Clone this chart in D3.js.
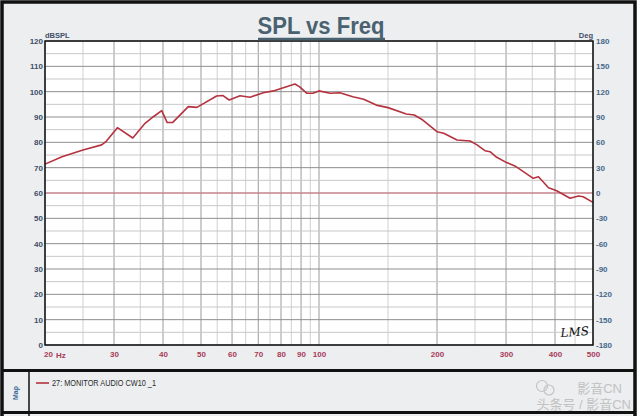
<!DOCTYPE html>
<html><head><meta charset="utf-8">
<script src="https://cdn.jsdelivr.net/npm/d3@7"></script>
<style>body{margin:0;background:#fff}svg{display:block}</style>
</head><body>
<svg id="c" width="640" height="416"></svg>
<script>
// ---- data ----
const freqs = [20,22.1,25.0,27.9,28.7,30.6,33.5,36.0,37.8,39.7,41.0,42.3,46.4,48.8,54.8,56.8,59.0,62.9,66.7,72.1,76.5,86.8,89.1,93.0,96.5,100,106.7,113,122,130,140,150,167,175,184,200,208,225,243,253,265,273,284,301,316,352,363,385,404,437,459,472,500];
const spl   = [71.4,74.3,77.0,79.0,80.5,85.8,81.7,87.5,90.1,92.5,87.8,87.8,94.1,93.8,98.3,98.5,96.7,98.4,97.8,99.6,100.3,103.0,102.0,99.4,99.4,100.3,99.4,99.6,98.0,97.0,94.7,93.7,91.2,90.8,88.8,84.2,83.6,80.9,80.5,79.0,76.7,76.3,74.1,72.0,70.7,65.8,66.4,62.1,60.9,57.9,58.8,58.5,56.3];
const xMajor = [20,30,40,50,60,70,80,90,100,200,300,400,500];
const xMinor = [25,35,45,55,65,75,85,95,150,250,350,450];
const xLabels = ["20","30","40","50","60","70","80","90","100","200","300","400","500"];
const yTicks = [0,10,20,30,40,50,60,70,80,90,100,110,120];
const yMinor = [5,15,25,35,45,55,65,75,85,95,105,115];
const degTicks = [180,150,120,90,60,30,0,-30,-60,-90,-120,-150,-180];
const refLevel = 60;
const seriesName = "27: MONITOR AUDIO CW10 _1";

const svg = d3.select("#c");
const L=45,R=593,T=41,B=345;
const x = d3.scaleLog().domain([20,500]).range([L,R]);
const y = d3.scaleLinear().domain([0,120]).range([B,T]);
const yd = d3.scaleLinear().domain([-180,180]).range([B,T]);

// frame / panels
svg.append("rect").attr("x",0).attr("y",0).attr("width",640).attr("height",416).attr("fill","#fff");
svg.append("rect").attr("x",2).attr("y",2).attr("width",633).attr("height",430).attr("fill","#eceef0").attr("stroke","#111").attr("stroke-width",3.5);
svg.append("line").attr("x1",2).attr("x2",635).attr("y1",370.5).attr("y2",370.5).attr("stroke","#111").attr("stroke-width",3);
svg.append("line").attr("x1",2).attr("x2",635).attr("y1",412.5).attr("y2",412.5).attr("stroke","#111").attr("stroke-width",3);
svg.append("line").attr("x1",29).attr("x2",29).attr("y1",372).attr("y2",416).attr("stroke","#111").attr("stroke-width",1.5);

// plot bg
svg.append("rect").attr("x",L).attr("y",T).attr("width",R-L).attr("height",B-T).attr("fill","#fff");

const g = svg.append("g");
// grid
g.selectAll(".vmin").data(xMinor).join("line").attr("x1",d=>x(d)).attr("x2",d=>x(d)).attr("y1",T).attr("y2",B).attr("stroke","#d0d0d0").attr("stroke-width",1);
g.selectAll(".vmaj").data(xMajor).join("line").attr("x1",d=>x(d)).attr("x2",d=>x(d)).attr("y1",T).attr("y2",B).attr("stroke","#9a9a9a").attr("stroke-width",1);
g.selectAll(".hmin").data(yMinor).join("line").attr("x1",L).attr("x2",R).attr("y1",d=>y(d)).attr("y2",d=>y(d)).attr("stroke","#c8c8c8").attr("stroke-width",1);
g.selectAll(".hmaj").data(yTicks).join("line").attr("x1",L).attr("x2",R).attr("y1",d=>y(d)).attr("y2",d=>y(d)).attr("stroke","#8e8e8e").attr("stroke-width",1);

// reference line
g.append("line").attr("x1",L).attr("x2",R).attr("y1",y(refLevel)).attr("y2",y(refLevel)).attr("stroke","#e07a85").attr("stroke-width",1);

// curve
const line = d3.line().x((d,i)=>x(freqs[i])).y(d=>y(d));
g.append("path").datum(spl).attr("d",line).attr("fill","none").attr("stroke","#b5323f").attr("stroke-width",1.6).attr("stroke-linejoin","round");

// plot border
svg.append("rect").attr("x",L).attr("y",T).attr("width",R-L).attr("height",B-T).attr("fill","none").attr("stroke","#111").attr("stroke-width",1.5);

// axes
const fnt = "Liberation Sans, Arial, sans-serif";
const la = svg.append("g").attr("transform",`translate(${L-2},0)`).call(d3.axisLeft(y).tickValues(yTicks).tickFormat(d=>String(d)).tickSize(0).tickPadding(0));
la.select(".domain").remove();
la.selectAll("text").attr("font-family",fnt).attr("font-size",8).attr("font-weight","bold").attr("fill","#3d4f68");
const ra = svg.append("g").attr("transform",`translate(${R+3},0)`).call(d3.axisRight(yd).tickValues(degTicks).tickFormat(d=>String(d)).tickSize(0).tickPadding(0));
ra.select(".domain").remove();
ra.selectAll("text").attr("font-family",fnt).attr("font-size",8).attr("font-weight","bold").attr("fill","#46688a");
const ba = svg.append("g").attr("transform",`translate(0,${B+3})`).call(d3.axisBottom(x).tickValues(xMajor).tickFormat((d,i)=>xLabels[i]).tickSize(0).tickPadding(3));
ba.select(".domain").remove();
ba.selectAll("text").attr("font-family",fnt).attr("font-size",8).attr("font-weight","bold").attr("fill","#a83a58");
ba.selectAll("text").filter(d=>d===20).attr("dx",3);
svg.append("text").attr("x",56).attr("y",B+13).attr("font-family",fnt).attr("font-size",8).attr("font-weight","bold").attr("fill","#a83a58").text("Hz");

// axis titles
svg.append("text").attr("x",45).attr("y",38).attr("font-family",fnt).attr("font-size",7.5).attr("font-weight","bold").attr("fill","#3d4f68").text("dBSPL");
svg.append("text").attr("x",593).attr("y",38).attr("text-anchor","end").attr("font-family",fnt).attr("font-size",7.5).attr("font-weight","bold").attr("fill","#3d4f68").text("Deg");

// title
svg.append("text").attr("x",321).attr("y",33.5).attr("text-anchor","middle").attr("font-family",fnt).attr("font-size",23).attr("font-weight","bold").attr("fill","#4a6270").attr("textLength",127).attr("lengthAdjust","spacingAndGlyphs").text("SPL vs Freq");
svg.append("line").attr("x1",258).attr("x2",385).attr("y1",39).attr("y2",39).attr("stroke","#4a6270").attr("stroke-width",2.5);

// LMS signature
svg.append("text").attr("x",575).attr("y",336).attr("text-anchor","middle").attr("font-family","DejaVu Serif").attr("font-style","italic").attr("font-size",12).attr("fill","#111").attr("transform","rotate(-4,575,336)").text("LMS");

// Map panel
svg.append("text").attr("transform","translate(18,393) rotate(-90)").attr("text-anchor","middle").attr("font-family",fnt).attr("font-size",7).attr("font-weight","bold").attr("fill","#3a6a9a").text("Map");
svg.append("line").attr("x1",36).attr("x2",49).attr("y1",383).attr("y2",383).attr("stroke","#b5323f").attr("stroke-width",1.6);
svg.append("text").attr("x",52).attr("y",386).attr("font-family",fnt).attr("font-size",8.5).attr("fill","#2a2a2a").attr("textLength",104).attr("lengthAdjust","spacingAndGlyphs").text(seriesName);

// watermark
const wfnt = "Liberation Sans, Noto Sans CJK SC";
const wm = svg.append("g").attr("fill","none").attr("stroke","#c4c4c4").attr("stroke-width",1.2);
wm.append("circle").attr("cx",542).attr("cy",386).attr("r",5.5);
wm.append("circle").attr("cx",549).attr("cy",390).attr("r",5);
svg.append("text").attr("x",622).attr("y",392.5).attr("text-anchor","end").attr("font-family",wfnt).attr("font-size",13).attr("fill","#c2c2c2").text("影音CN");
svg.append("text").attr("x",631).attr("y",408.5).attr("text-anchor","end").attr("font-family",wfnt).attr("font-size",13).attr("fill","#c2c2c2").text("头条号 / 影音CN");
</script>
</body></html>
